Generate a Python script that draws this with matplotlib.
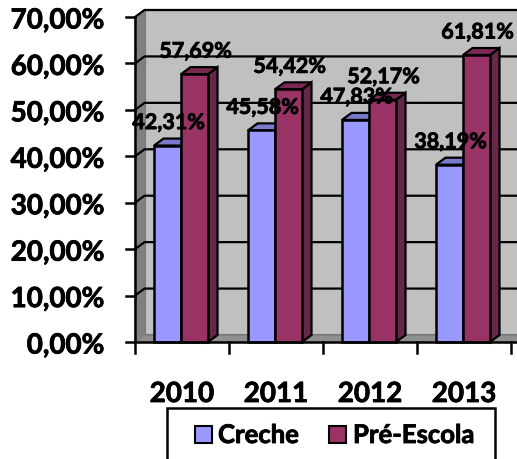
import matplotlib
matplotlib.use('Agg')
import matplotlib.pyplot as plt
import matplotlib.patheffects as pe
from matplotlib.patches import Polygon, Rectangle

years = ['2010', '2011', '2012', '2013']
creche = [42.31, 45.58, 47.83, 38.19]
pre_escola = [57.69, 54.42, 52.17, 61.81]
y_ticks = [0, 10, 20, 30, 40, 50, 60, 70]
y_labels = ['0,00%', '10,00%', '20,00%', '30,00%', '40,00%', '50,00%', '60,00%', '70,00%']

W, H = 517, 459
plt.rcParams['font.family'] = ['Lato', 'DejaVu Sans']
plt.rcParams['font.weight'] = 'bold'
heavy = [pe.withStroke(linewidth=0.6, foreground='black')]

fig = plt.figure(figsize=(W / 100, H / 100), dpi=100)
ax = fig.add_axes([135 / W, 1 - 342 / H, 376 / W, 325 / H])
ax.set_xlim(0, 4)
ax.set_ylim(0, 70)
ax.axis('off')

# pixels per data unit, used for the fake 3d depth
px_x = 94
px_y = 325 / 70
dx = 9.5 / px_x
dy = 7 / px_y
bar_w = 27 / px_x


def poly(pts, fc, z, lw=1.2, ec='#222222'):
    ax.add_patch(Polygon(pts, closed=True, facecolor=fc, edgecolor=ec,
                         linewidth=lw, zorder=z, clip_on=False))


# walls and floor
poly([(dx, dy), (4.5, dy), (4.5, 70 + dy), (dx, 70 + dy)], '#c0c0c0', 1, 1.5, '#777777')
poly([(0, 0), (dx, dy), (dx, 70 + dy), (0, 70)], '#808080', 1, 0.8, '#808080')
poly([(0, 0), (4.5, 0), (4.5, dy), (dx, dy)], '#909090', 1, 0.8, '#808080')

# grid lines on the walls and axis ticks
for t in y_ticks:
    if t > 0:
        ax.plot([0, dx, 4.5], [t, t + dy, t + dy], color='black', lw=1.6,
                zorder=2, clip_on=False, solid_joinstyle='miter')
    ax.plot([-9 / px_x, 0], [t, t], color='black', lw=1.8, zorder=3, clip_on=False)
    ax.text(-30 / px_x, t - 3.5 / px_y, y_labels[t // 10], ha='right', va='center',
            fontsize=20, clip_on=False, path_effects=heavy)
ax.plot([0, 0], [0, 70], color='black', lw=1.8, zorder=3, clip_on=False)
ax.plot([0, 4.5], [0, 0], color='black', lw=1.8, zorder=6, clip_on=False)
for i in range(5):
    ax.plot([i, i], [0, -11 / px_y], color='black', lw=1.8, clip_on=False, zorder=3)


def bar3d(x, v, front, top, side, z):
    x2 = x + bar_w
    poly([(x2, 0), (x2 + dx, dy), (x2 + dx, v + dy), (x2, v)], side, z, 1.6, 'black')
    poly([(x, v), (x + dx, v + dy), (x2 + dx, v + dy), (x2, v)], top, z, 1.6, 'black')
    ax.add_patch(Rectangle((x, 0), bar_w, v, facecolor=front, edgecolor='black',
                           linewidth=1.8, zorder=z + 0.1, clip_on=False))


def value_label(x, v):
    ax.annotate(f'{v:.2f}%'.replace('.', ','), xy=(x + bar_w / 2, v), xytext=(1, 23),
                textcoords='offset pixels', ha='center', va='center', fontsize=15.5,
                zorder=10, annotation_clip=False, path_effects=heavy)


for i in range(len(years)):
    x0 = i + 19 / px_x
    bar3d(x0, creche[i], '#9999ff', '#7a7acc', '#4d4d80', 4 + i * 0.5)
    bar3d(x0 + bar_w, pre_escola[i], '#993366', '#7a2952', '#662848', 4.2 + i * 0.5)
    value_label(x0, creche[i])
    value_label(x0 + bar_w, pre_escola[i])
    ax.text(i + 0.5, -52 / px_y, years[i], ha='center', va='center', fontsize=20,
            clip_on=False, path_effects=heavy)

# legend box runs past the bottom edge in the original
fig.add_artist(Rectangle((167 / W, 1 - 470 / H), 328 / W, 62 / H, transform=fig.transFigure,
                         facecolor='white', edgecolor='black', linewidth=1.8))
fig.add_artist(Rectangle((195 / W, 1 - 443 / H), 17 / W, 17 / H, transform=fig.transFigure,
                         facecolor='#9999ff', edgecolor='black', linewidth=1.5))
fig.add_artist(Rectangle((329 / W, 1 - 443 / H), 17 / W, 17 / H, transform=fig.transFigure,
                         facecolor='#993366', edgecolor='black', linewidth=1.5))
fig.text(218 / W, 1 - 435 / H, 'Creche', ha='left', va='center', fontsize=18.5, path_effects=heavy)
fig.text(353 / W, 1 - 435 / H, 'Pré-Escola', ha='left', va='center', fontsize=18.5, path_effects=heavy)

fig.savefig('out.png', dpi=100)
